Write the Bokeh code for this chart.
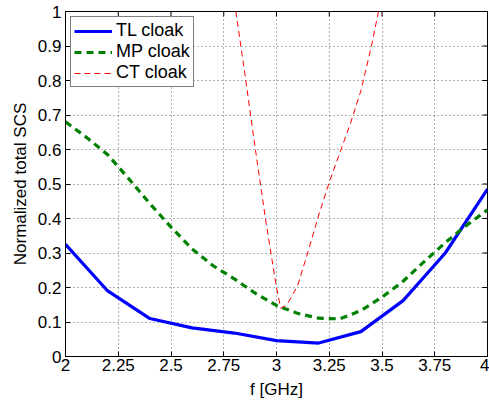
import math
from bokeh.plotting import figure
from bokeh.models import (Range1d, FixedTicker, NumeralTickFormatter,
                          Legend, LegendItem)
from bokeh.embed import file_html
from bokeh.resources import INLINE

# ---- data ----
f_tl = [2.0, 2.2, 2.4, 2.6, 2.8, 3.0, 3.2, 3.4, 3.6, 3.8, 4.0]
scs_tl = [0.325, 0.19, 0.11, 0.083, 0.068, 0.046, 0.039, 0.072, 0.162, 0.30, 0.485]

f_mp = [2.0, 2.1, 2.2, 2.3, 2.4, 2.5, 2.6, 2.7, 2.8, 2.9, 3.0,
        3.1, 3.2, 3.3, 3.4, 3.5, 3.6, 3.7, 3.8, 3.9, 4.0]
scs_mp = [0.68, 0.635, 0.585, 0.515, 0.443, 0.375, 0.312, 0.263, 0.225, 0.183, 0.148,
          0.125, 0.111, 0.109, 0.133, 0.172, 0.218, 0.275, 0.33, 0.38, 0.425]

f_ct = [2.8, 2.85, 2.9, 2.95, 3.0, 3.02, 3.05, 3.1, 3.15, 3.2, 3.25, 3.3, 3.35, 3.4, 3.45, 3.5]
scs_ct = [1.03, 0.82, 0.60, 0.39, 0.20, 0.14, 0.15, 0.205, 0.305, 0.41, 0.505, 0.59, 0.675, 0.77, 0.90, 1.05]

x_ticks = [2.0, 2.25, 2.5, 2.75, 3.0, 3.25, 3.5, 3.75, 4.0]
y_ticks = [0.0, 0.1, 0.2, 0.3, 0.4, 0.5, 0.6, 0.7, 0.8, 0.9, 1.0]

series_names = ["TL cloak", "MP cloak", "CT cloak"]
x_label = "f [GHz]"
y_label = "Normalized total SCS"

FONT = "Liberation Sans"
FS = "17px"

p = figure(width=489, height=405, output_backend="svg", toolbar_location=None,
           x_range=Range1d(2, 4), y_range=Range1d(0, 1),
           min_border_left=65, min_border_right=2, min_border_top=11, min_border_bottom=49)
p.background_fill_color = "white"
p.border_fill_color = "white"
p.outline_line_color = "black"
p.outline_line_width = 1

# axes styling
for ax in (p.xaxis[0], p.yaxis[0]):
    ax.major_label_text_font = FONT
    ax.major_label_text_font_size = FS
    ax.major_label_text_color = "black"
    ax.axis_label_text_font = FONT
    ax.axis_label_text_font_size = FS
    ax.axis_label_text_font_style = "normal"
    ax.axis_label_text_color = "black"
    ax.major_tick_in = 5
    ax.major_tick_out = 0
    ax.minor_tick_line_color = None
    ax.axis_line_color = "black"
    ax.major_tick_line_color = "black"

p.xaxis[0].ticker = FixedTicker(ticks=x_ticks)
p.yaxis[0].ticker = FixedTicker(ticks=y_ticks)
p.xaxis[0].formatter = NumeralTickFormatter(format="0.[00]")
p.yaxis[0].formatter = NumeralTickFormatter(format="0.[0]")
p.xaxis[0].axis_label = x_label
p.yaxis[0].axis_label = y_label
p.xaxis[0].major_label_standoff = 2
p.xaxis[0].axis_label_standoff = 6
p.yaxis[0].major_label_standoff = 4
p.yaxis[0].axis_label_standoff = 5

# grid
p.xgrid.ticker = FixedTicker(ticks=x_ticks)
p.ygrid.ticker = FixedTicker(ticks=y_ticks)
for g in (p.xgrid[0], p.ygrid[0]):
    g.grid_line_color = "#555555"
    g.grid_line_dash = "1 3"
    g.grid_line_width = 1
    g.grid_line_alpha = 0.9

# ticks on top and right edges of the box (inward)
p.ray(x=x_ticks, y=[1.0] * len(x_ticks), length=5, length_units="screen",
      angle=-math.pi / 2, line_color="black", line_width=1)
p.ray(x=[4.0] * len(y_ticks), y=y_ticks, length=5, length_units="screen",
      angle=math.pi, line_color="black", line_width=1)

r_tl = p.line(f_tl, scs_tl, line_color="#0000ff", line_width=3.2)
r_mp = p.line(f_mp, scs_mp, line_color="#008000", line_width=3.2, line_dash="7 5")
r_ct = p.line(f_ct, scs_ct, line_color="#ff0000", line_width=1, line_dash="6 4")

legend = Legend(items=[LegendItem(label=series_names[0], renderers=[r_tl]),
                       LegendItem(label=series_names[1], renderers=[r_mp]),
                       LegendItem(label=series_names[2], renderers=[r_ct])],
                location="top_left")
legend.margin = 5
legend.padding = 3
legend.spacing = 0
legend.glyph_width = 38
legend.glyph_height = 20
legend.label_height = 20
legend.label_standoff = 4
legend.label_text_font = FONT
legend.label_text_font_size = "18px"
legend.label_text_color = "black"
legend.border_line_color = "black"
legend.border_line_width = 1
legend.background_fill_color = "white"
legend.background_fill_alpha = 1
p.add_layout(legend, "center")

open("out.html", "w").write(file_html(p, INLINE))
